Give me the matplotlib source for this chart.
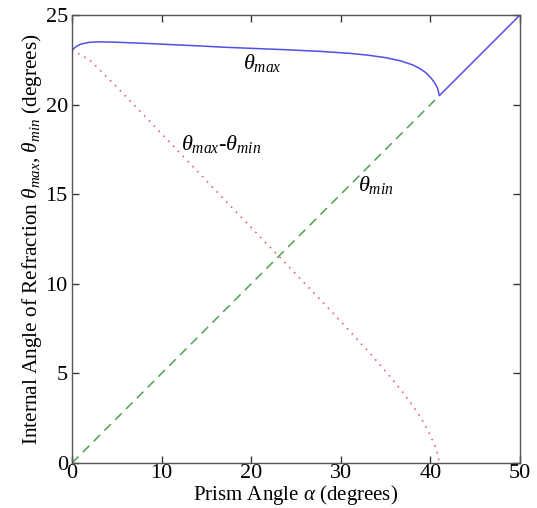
import matplotlib
matplotlib.use("Agg")
import matplotlib.pyplot as plt

plt.rcParams['font.family'] = ['Liberation Serif', 'DejaVu Serif']
plt.rcParams['mathtext.fontset'] = 'custom'
plt.rcParams['mathtext.rm'] = 'Liberation Serif'
plt.rcParams['mathtext.it'] = 'Liberation Serif:italic'

# theta_max (blue solid)
alpha_max = [0, 0.5, 1, 2, 3, 5, 8, 11, 14, 17, 20, 24, 28, 31, 33, 35, 36.6, 38,
             38.8, 39.5, 40.1, 40.5, 40.8, 41.0, 45.5, 50]
theta_max = [23.05, 23.25, 23.38, 23.48, 23.5, 23.48, 23.42, 23.35, 23.28, 23.2, 23.14,
             23.06, 22.96, 22.86, 22.76, 22.62, 22.45, 22.22, 22.02, 21.78, 21.47,
             21.2, 20.91, 20.5, 22.75, 25.0]

# theta_min (green dashed)
alpha_min = [0, 10, 20, 30, 41]
theta_min = [0, 5.0, 10.0, 15.0, 20.5]

# theta_max - theta_min (red dotted)
alpha_diff = [0, 2, 5, 8, 11, 14, 17, 20, 24, 28, 31, 33, 35, 36.6, 38, 38.8, 39.5,
              40.1, 40.5, 40.8, 41.0]
theta_diff = [23.05, 22.48, 20.98, 19.42, 17.85, 16.28, 14.7, 13.14, 11.06, 8.96, 7.36,
              6.26, 5.12, 4.15, 3.22, 2.62, 2.03, 1.42, 0.95, 0.51, 0.0]

xticks = [0, 10, 20, 30, 40, 50]
yticks = [0, 5, 10, 15, 20, 25]

fig = plt.figure(figsize=(5.37, 5.08), dpi=100)
ax = fig.add_axes([72/537, 45/508, 448/537, 448/508])

ax.plot(alpha_max, theta_max, color='#5050e8', lw=1.1)
ax.plot(alpha_min, theta_min, color='#4fa04f', lw=1.1, linestyle=(0, (6, 4)))
ax.plot(alpha_diff, theta_diff, color='#ee6070', lw=1.2, linestyle=(0, (1, 3.2)))

ax.set_xlim(0, 50)
ax.set_ylim(0, 25)
ax.set_xticks(xticks)
ax.set_yticks(yticks)
ax.tick_params(direction='in', top=True, right=True, length=5, width=1,
               color='#333333', labelsize=16, pad=3)
ax.tick_params(axis='x', pad=0.5)
for s in ax.spines.values():
    s.set_color('#555555')
    s.set_linewidth(1.0)

ax.set_xlabel(r'Prism Angle $\alpha$ (degrees)', fontsize=15, labelpad=0)
ax.set_ylabel(r'Internal Angle of Refraction $\theta_{max}$, $\theta_{min}$ (degrees)',
              fontsize=15.3, labelpad=1)

ax.text(19.1, 22.3, r'$\theta_{max}$', fontsize=16, va='center', ha='left')
ax.text(12.2, 17.8, r'$\theta_{max}$-$\theta_{min}$', fontsize=16, va='center', ha='left')
ax.text(31.9, 15.5, r'$\theta_{min}$', fontsize=16, va='center', ha='left')

fig.savefig('out.png', dpi=100)
